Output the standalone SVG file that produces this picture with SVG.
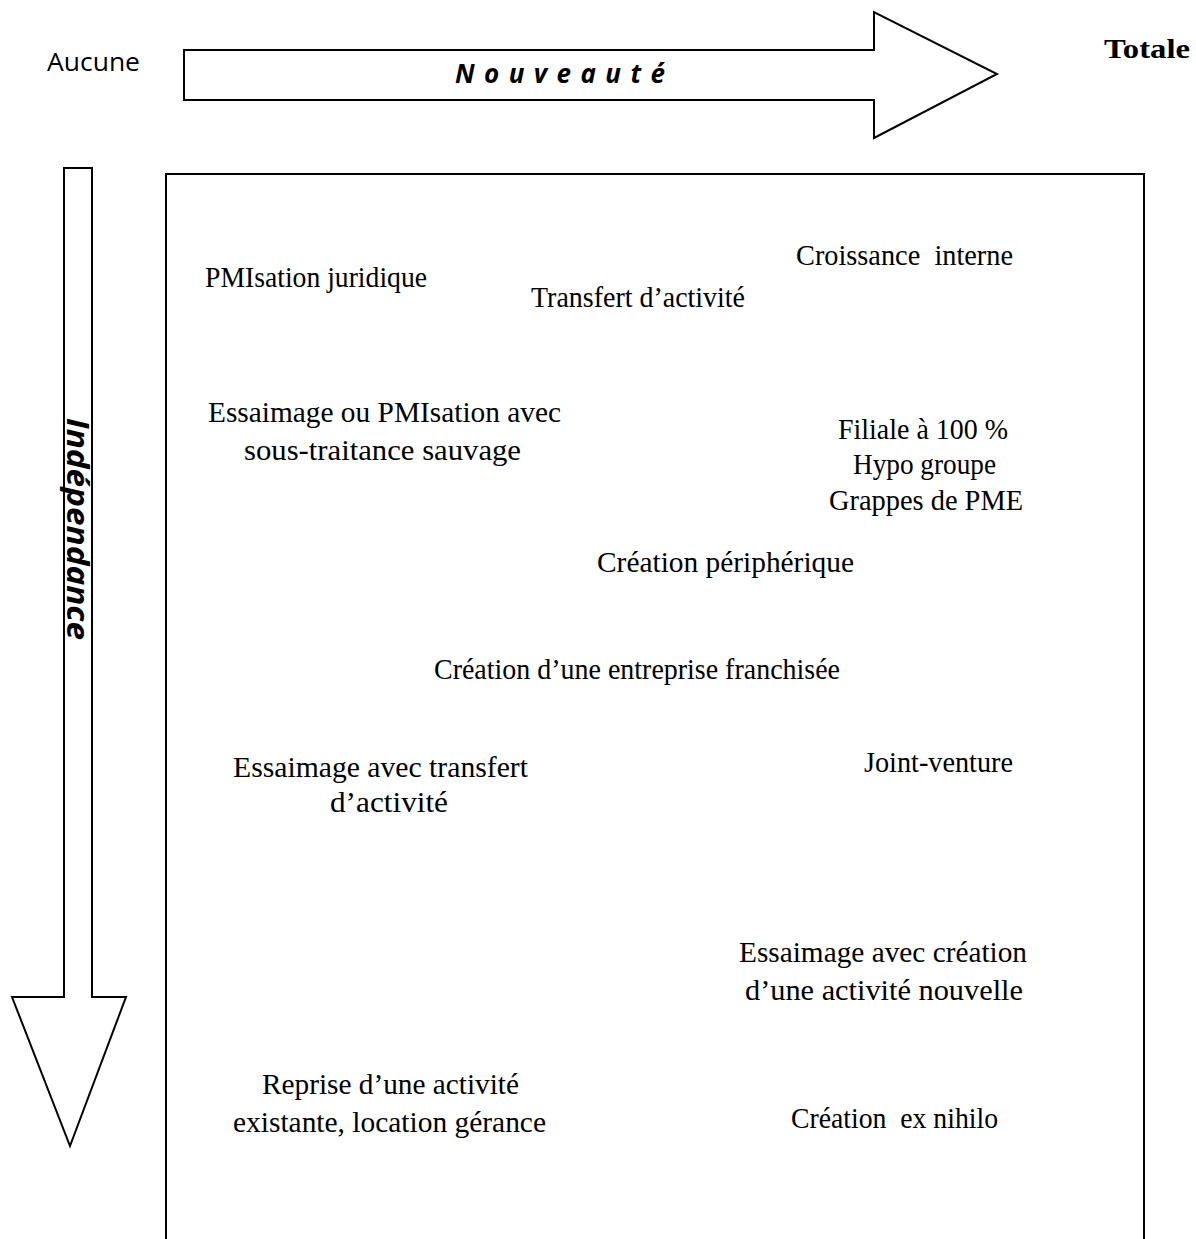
<svg xmlns="http://www.w3.org/2000/svg" width="1196" height="1239" viewBox="0 0 1196 1239">
  <style>
    .shape { fill: #ffffff; stroke: #000000; stroke-width: 2; stroke-linejoin: miter; }
    .lbl { font-family: "Times New Roman", "Liberation Serif", Tinos, serif; font-size: 30px; fill: #000000; }
    .axis { font-family: "Open Sans", "Liberation Sans", sans-serif; fill: #000000; }
    .bold-serif { font-family: "Times New Roman", "Liberation Serif", serif; font-weight: bold; fill: #000000; }
  </style>
  <rect width="1196" height="1239" fill="#ffffff"/>

  <!-- horizontal axis: novelty -->
  <g id="axis-nouveaute">
    <polygon class="shape" points="184,50 874,50 874,12 997,74 874,138 874,100 184,100"/>
    <text class="axis" x="455" y="83" font-size="26" font-weight="bold" font-style="italic" textLength="210" lengthAdjust="spacing">Nouveauté</text>
  </g>
  <g id="label-aucune">
    <text class="axis" x="47" y="71" font-size="25" textLength="93" lengthAdjust="spacingAndGlyphs">Aucune</text>
  </g>
  <g id="label-totale">
    <text class="bold-serif" x="1104" y="58" font-size="27" textLength="86" lengthAdjust="spacingAndGlyphs">Totale</text>
  </g>

  <!-- vertical axis: independence -->
  <g id="axis-independance">
    <polygon class="shape" points="64,168 92,168 92,997 126,997 70,1146 12,997 64,997"/>
    <text class="axis" transform="translate(67,529) rotate(90)" text-anchor="middle" font-size="30" font-weight="bold" font-style="italic" textLength="222" lengthAdjust="spacingAndGlyphs">Indépendance</text>
  </g>

  <!-- frame holding the forms of creation -->
  <g id="frame">
    <polyline points="166,1239 166,174 1144,174 1144,1239" fill="none" stroke="#000000" stroke-width="2"/>
  </g>

  <g id="connectors"></g>

  <g id="n-pmisation">
    <text class="lbl" x="205" y="287" textLength="222" lengthAdjust="spacingAndGlyphs">PMIsation juridique</text>
  </g>
  <g id="n-transfert">
    <text class="lbl" x="531" y="307" textLength="214" lengthAdjust="spacingAndGlyphs">Transfert d’activité</text>
  </g>
  <g id="n-croissance">
    <text class="lbl" x="796" y="265" textLength="217" lengthAdjust="spacingAndGlyphs" xml:space="preserve">Croissance  interne</text>
  </g>
  <g id="n-essaimage-pmi">
    <text class="lbl" x="208" y="422" textLength="353" lengthAdjust="spacingAndGlyphs">Essaimage ou PMIsation avec</text>
    <text class="lbl" x="244" y="460" textLength="277" lengthAdjust="spacingAndGlyphs">sous-traitance sauvage</text>
  </g>
  <g id="n-filiale">
    <text class="lbl" x="838" y="439" textLength="170" lengthAdjust="spacingAndGlyphs">Filiale à 100 %</text>
    <text class="lbl" x="853" y="474" textLength="143" lengthAdjust="spacingAndGlyphs">Hypo groupe</text>
    <text class="lbl" x="829" y="510" textLength="194" lengthAdjust="spacingAndGlyphs">Grappes de PME</text>
  </g>
  <g id="n-peripherique">
    <text class="lbl" x="597" y="572" textLength="257" lengthAdjust="spacingAndGlyphs">Création périphérique</text>
  </g>
  <g id="n-franchise">
    <text class="lbl" x="434" y="679" textLength="406" lengthAdjust="spacingAndGlyphs">Création d’une entreprise franchisée</text>
  </g>
  <g id="n-essaimage-transfert">
    <text class="lbl" x="233" y="777" textLength="295" lengthAdjust="spacingAndGlyphs">Essaimage avec transfert</text>
    <text class="lbl" x="330" y="812" textLength="118" lengthAdjust="spacingAndGlyphs">d’activité</text>
  </g>
  <g id="n-joint-venture">
    <text class="lbl" x="864" y="772" textLength="149" lengthAdjust="spacingAndGlyphs">Joint-venture</text>
  </g>
  <g id="n-essaimage-creation">
    <text class="lbl" x="739" y="962" textLength="288" lengthAdjust="spacingAndGlyphs">Essaimage avec création</text>
    <text class="lbl" x="745" y="1000" textLength="278" lengthAdjust="spacingAndGlyphs">d’une activité nouvelle</text>
  </g>
  <g id="n-reprise">
    <text class="lbl" x="262" y="1094" textLength="257" lengthAdjust="spacingAndGlyphs">Reprise d’une activité</text>
    <text class="lbl" x="233" y="1132" textLength="313" lengthAdjust="spacingAndGlyphs">existante, location gérance</text>
  </g>
  <g id="n-ex-nihilo">
    <text class="lbl" x="791" y="1128" textLength="207" lengthAdjust="spacingAndGlyphs" xml:space="preserve">Création  ex nihilo</text>
  </g>
</svg>
